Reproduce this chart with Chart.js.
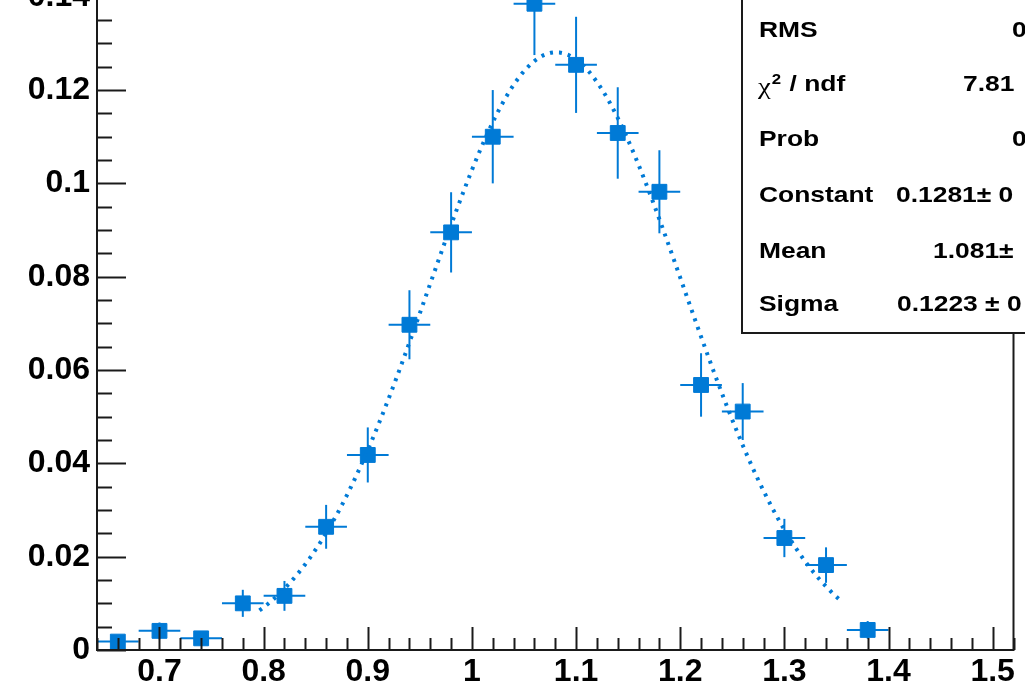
<!DOCTYPE html>
<html>
<head>
<meta charset="utf-8">
<script src="https://cdn.jsdelivr.net/npm/chart.js@4"></script>
<style>
  html, body { margin: 0; padding: 0; background: #fff; overflow: hidden; }
  .wrap { position: relative; width: 1025px; height: 687px; overflow: hidden; }
  #plot { position: absolute; left: 0; top: -90px; }
</style>
</head>
<body>
<div class="wrap"><canvas id="plot" width="1025" height="777"></canvas></div>
<script>
// histogram bins (centre, content, error)
const binCenters = [0.66, 0.70, 0.74, 0.78, 0.82, 0.86, 0.90, 0.94, 0.98, 1.02,
  1.06, 1.10, 1.14, 1.18, 1.22, 1.26, 1.30, 1.34, 1.38];
const binValues = [0.0018, 0.0041, 0.0025, 0.0100, 0.0116, 0.0264, 0.0418, 0.0697, 0.0895, 0.1100,
  0.1385, 0.1254, 0.1108, 0.0982, 0.0568, 0.0511, 0.0240, 0.0182, 0.0043];
const binErrors = [0.0012, 0.0018, 0.0014, 0.0029, 0.0032, 0.0047, 0.0059, 0.0074, 0.0086, 0.0100,
  0.0110, 0.0103, 0.0098, 0.0089, 0.0068, 0.0061, 0.0041, 0.0038, 0.0019];
const binWidth = 0.04;

const xTicks = [0.7, 0.8, 0.9, 1.0, 1.1, 1.2, 1.3, 1.4, 1.5];
const xTickLabels = ['0.7', '0.8', '0.9', '1', '1.1', '1.2', '1.3', '1.4', '1.5'];
const yTicks = [0, 0.02, 0.04, 0.06, 0.08, 0.1, 0.12, 0.14];
const yTickLabels = ['0', '0.02', '0.04', '0.06', '0.08', '0.1', '0.12', '0.14'];

// gaus fit: constant, mean, sigma
const fitParams = [0.1281, 1.081, 0.1223];
const fitRange = [0.796, 1.356];

const statNames = ['RMS', 'χ2 / ndf', 'Prob', 'Constant', 'Mean', 'Sigma'];
const statValues = ['0', '7.81', '0', '0.1281± 0', '1.081± ', '0.1223 ± 0'];

const blue = 'rgb(0,122,214)';
const ink = '#1a1a1a';
const font = '"Liberation Sans", Arial, Helvetica, sans-serif';

const points = binCenters.map((x, i) => ({ x: x, y: binValues[i] }));

const fitPoints = [];
for (let x = fitRange[0]; x <= fitRange[1] + 1e-9; x += 0.004) {
  const [c, m, s] = fitParams;
  fitPoints.push({ x: x, y: c * Math.exp(-0.5 * ((x - m) / s) ** 2) });
}

function line(ctx, x1, y1, x2, y2) {
  ctx.beginPath();
  ctx.moveTo(x1, y1);
  ctx.lineTo(x2, y2);
  ctx.stroke();
}

const rootFrame = {
  id: 'rootFrame',
  beforeDatasetsDraw(chart) {
    const { ctx, scales: { x, y } } = chart;
    ctx.save();
    ctx.strokeStyle = blue;
    ctx.lineWidth = 2;
    binCenters.forEach((c, i) => {
      const px = x.getPixelForValue(c);
      const py = y.getPixelForValue(binValues[i]);
      line(ctx, x.getPixelForValue(c - binWidth / 2), py, x.getPixelForValue(c + binWidth / 2), py);
      line(ctx, px, y.getPixelForValue(binValues[i] - binErrors[i]), px, y.getPixelForValue(binValues[i] + binErrors[i]));
    });
    ctx.restore();
  },
  afterDatasetsDraw(chart) {
    const { ctx, chartArea: a, scales: { x, y } } = chart;
    ctx.save();
    ctx.strokeStyle = ink;
    ctx.lineWidth = 2;
    ctx.strokeRect(a.left, a.top, a.right - a.left, a.bottom - a.top);

    // ticks point into the frame
    for (let v = 0.64; v <= 1.52 + 1e-9; v += 0.02) {
      const major = xTicks.some(t => Math.abs(t - v) < 1e-6);
      const px = Math.round(x.getPixelForValue(v)) + 0.5;
      line(ctx, px, a.bottom, px, a.bottom - (major ? 23 : 12));
    }
    for (let v = 0; v <= y.max + 1e-9; v += 0.005) {
      const major = yTicks.some(t => Math.abs(t - v) < 1e-6);
      const py = Math.round(y.getPixelForValue(v)) + 0.5;
      line(ctx, a.left, py, a.left + (major ? 29 : 15), py);
    }

    // stats box
    const boxLeft = 742, boxBottom = a.top + 403;
    ctx.fillStyle = '#fff';
    ctx.fillRect(boxLeft, -10, 400, boxBottom + 10);
    ctx.strokeRect(boxLeft, -10, 400, boxBottom + 10);

    const rowY = [121, 175, 230, 286, 342, 395];
    const valueX = [1012, 963, 1012, 896, 933, 897];
    ctx.fillStyle = '#000';
    ctx.textBaseline = 'middle';
    const stretched = (text, tx, ty, f) => {
      ctx.save();
      ctx.translate(tx, ty);
      ctx.scale(1.2, 1);
      ctx.font = f;
      ctx.fillText(text, 0, 0);
      const w = ctx.measureText(text).width * 1.2;
      ctx.restore();
      return w;
    };
    statNames.forEach((name, i) => {
      if (name.startsWith('χ')) {
        // chi in symbol style, raised "2", then the rest
        let cx = 758;
        cx += stretched('χ', cx, rowY[i] + 3, '24px "Liberation Serif", "DejaVu Serif", serif');
        cx += stretched('2', cx + 1, rowY[i] - 5, 'bold 14px ' + font);
        stretched(' / ndf', cx + 2, rowY[i], 'bold 22px ' + font);
      } else {
        stretched(name, 759, rowY[i], 'bold 22px ' + font);
      }
      stretched(statValues[i], valueX[i], rowY[i], 'bold 22px ' + font);
    });
    ctx.restore();
  }
};

new Chart(document.getElementById('plot'), {
  type: 'scatter',
  data: {
    datasets: [
      {
        type: 'line',
        data: fitPoints,
        borderColor: blue,
        borderWidth: 4,
        borderDash: [3, 6],
        pointRadius: 0,
        fill: false
      },
      {
        data: points,
        pointStyle: 'rect',
        pointRadius: 10.5,
        pointBackgroundColor: blue,
        pointBorderColor: blue,
        pointBorderWidth: 1
      }
    ]
  },
  options: {
    responsive: false,
    animation: false,
    layout: { padding: { left: 0, right: 9, top: 20, bottom: 0 } },
    plugins: { legend: { display: false }, tooltip: { enabled: false } },
    scales: {
      x: {
        type: 'linear',
        min: 0.64,
        max: 1.52,
        grid: { display: false, drawTicks: false },
        border: { display: false },
        afterBuildTicks: s => { s.ticks = xTicks.map(v => ({ value: v })); },
        afterFit: s => { s.height = 37; s.paddingLeft = 0; s.paddingRight = 0; },
        ticks: {
          padding: 3,
          color: '#000',
          font: { family: font, size: 32, weight: 'bold' },
          maxRotation: 0,
          autoSkip: false,
          callback: (v, i) => xTickLabels[i]
        }
      },
      y: {
        type: 'linear',
        min: 0,
        max: 0.1543,
        grid: { display: false, drawTicks: false },
        border: { display: false },
        afterBuildTicks: s => { s.ticks = yTicks.map(v => ({ value: v })); },
        afterFit: s => { s.width = 97; s.paddingTop = 0; s.paddingBottom = 0; },
        ticks: {
          padding: 7,
          color: '#000',
          font: { family: font, size: 32, weight: 'bold' },
          autoSkip: false,
          callback: (v, i) => yTickLabels[i]
        }
      }
    }
  },
  plugins: [rootFrame]
});
</script>
</body>
</html>
